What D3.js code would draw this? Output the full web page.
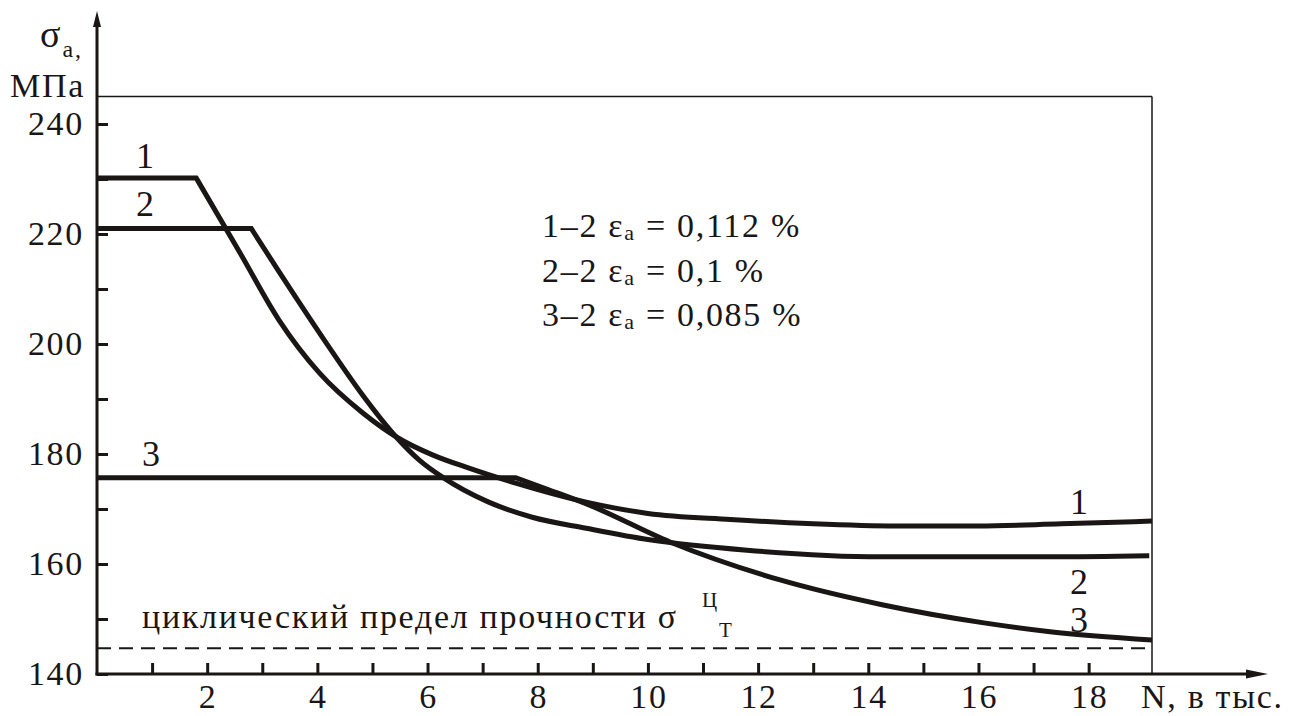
<!DOCTYPE html>
<html><head><meta charset="utf-8">
<script src="https://cdn.jsdelivr.net/npm/d3@7"></script>
<style>html,body{margin:0;padding:0;background:#fff;}svg{display:block;}</style>
</head><body>
<svg id="c" width="1304" height="716"></svg>
<script>
// ---- data ----
const xTickLabels = [2,4,6,8,10,12,14,16,18];
const xMinorTicks = [1,2,3,4,5,6,7,8,9,10,11,12,13,14,15,16,17,18];
const yTickLabels = [140,160,180,200,220,240];
const yMinorTicks = [150,170,190,210,230];
const N1 = [0, 1.8, 2.6, 3.3, 4.04, 4.82, 5.45, 6.1, 6.7, 7.6, 8.9, 10, 11.5, 13, 14.5, 16, 17.5, 19.15];
const S1 = [230.2, 230.2, 216.5, 204.4, 194.7, 187.5, 183, 179.8, 177.6, 174.7, 171.2, 169.2, 168.1, 167.3, 166.9, 166.9, 167.3, 167.8];
const N2 = [0, 2.8, 3.3, 3.6, 4.2, 4.8, 5.43, 5.85, 6.27, 7.1, 7.9, 8.88, 10.03, 11.8, 14.25, 17.3, 19.1];
const S2 = [221, 221, 213.2, 208.6, 199.6, 191, 183.1, 178.9, 175.8, 171.3, 168.5, 166.5, 164.4, 162.5, 161.3, 161.3, 161.5];
const N3 = [0, 7.6, 8.2, 8.94, 10.4, 12.4, 14.25, 16.1, 17.3, 19.15];
const S3 = [175.7, 175.7, 173.5, 170.7, 164, 157.1, 152.6, 149.3, 147.7, 146.2];
const fatigueLimit = 144.7;
const xMax = 19.15, yMin = 140, yMax = 245;
const legendLines = [["1–2 ε","a"," = 0,112 %"],["2–2 ε","a"," = 0,1 %"],["3–2 ε","a"," = 0,085 %"]];

const svg = d3.select("#c");
const x = d3.scaleLinear().domain([0, xMax]).range([97, 1152]);
const y = d3.scaleLinear().domain([yMin, yMax]).range([674, 96.5]);
const ink = "#1a1615";

function txt(px, py, size, anchor){
  return svg.append("text").attr("x",px).attr("y",py)
    .attr("style", `font-family:'Liberation Serif','Times New Roman',serif;font-size:${size}px;letter-spacing:${(size*0.05).toFixed(1)}px`)
    .attr("text-anchor",anchor||"start").attr("fill",ink);
}

// frame (thin)
svg.append("line").attr("x1",x(0)).attr("x2",x(xMax)).attr("y1",y(yMax)).attr("y2",y(yMax)).attr("stroke",ink).attr("stroke-width",1.5);
svg.append("line").attr("x1",x(xMax)).attr("x2",x(xMax)).attr("y1",y(yMax)).attr("y2",y(yMin)).attr("stroke",ink).attr("stroke-width",1.5);

// dashed fatigue line
svg.append("line").attr("x1",x(0)).attr("x2",x(xMax)).attr("y1",y(fatigueLimit)).attr("y2",y(fatigueLimit))
  .attr("stroke",ink).attr("stroke-width",2).attr("stroke-dasharray","14,8");

// axes (ticks only, drawn through d3 scales)
const yAxis = d3.axisRight(y).tickValues(yTickLabels.concat(yMinorTicks)).tickSize(11).tickFormat("");
const gy = svg.append("g").attr("transform",`translate(${x(0)},0)`).call(yAxis);
gy.select(".domain").remove();
gy.selectAll("text").remove();
gy.selectAll("line").attr("stroke",ink).attr("stroke-width",3);
const xAxis = d3.axisTop(x).tickValues(xMinorTicks).tickSize(11).tickFormat("");
const gx = svg.append("g").attr("transform",`translate(0,${y(yMin)})`).call(xAxis);
gx.select(".domain").remove();
gx.selectAll("text").remove();
gx.selectAll("line").attr("stroke",ink).attr("stroke-width",3);

svg.append("line").attr("x1",x(0)).attr("x2",x(0)).attr("y1",y(yMin)+1.5).attr("y2",22).attr("stroke",ink).attr("stroke-width",3);
svg.append("path").attr("d",`M${x(0)},11 L${x(0)-4},27 L${x(0)+4},27 Z`).attr("fill",ink);
svg.append("line").attr("x1",x(0)-1.5).attr("x2",1255).attr("y1",y(yMin)).attr("y2",y(yMin)).attr("stroke",ink).attr("stroke-width",3);
svg.append("path").attr("d",`M1268,${y(yMin)} L1246,${y(yMin)-4.5} L1246,${y(yMin)+4.5} Z`).attr("fill",ink);

// tick labels
yTickLabels.forEach(v=>{ txt(84, y(v)+11, 34, "end").text(v); });
xTickLabels.forEach(v=>{ txt(x(v)+1, 708, 34, "middle").text(v); });
txt(1141, 708, 34, "start").text("N, в тыс.");

// y axis title
const t1 = txt(40, 47, 38, "start");
t1.append("tspan").text("σ");
t1.append("tspan").attr("style","font-size:24px").attr("dy",10).text("a,");
txt(10, 97, 34, "start").text("МПа");

// curves
const lineLin = d3.line().x(d=>x(d[0])).y(d=>y(d[1]));
const lineCurve = d3.line().x(d=>x(d[0])).y(d=>y(d[1])).curve(d3.curveMonotoneX);
[[N1,S1],[N2,S2],[N3,S3]].forEach(([N,S])=>{
  const pts = N.map((n,i)=>[n,S[i]]);
  const flat = lineLin(pts.slice(0,2));
  const rest = lineCurve(pts.slice(1));
  svg.append("path").attr("d", flat + rest.replace(/^M/,"L"))
    .attr("fill","none").attr("stroke",ink).attr("stroke-width",5).attr("stroke-linejoin","miter");
});

// curve labels
txt(146, 168, 36, "middle").text("1");
txt(146, 216, 36, "middle").text("2");
txt(152, 466, 36, "middle").text("3");
txt(1080, 514, 36, "middle").text("1");
txt(1080, 594, 36, "middle").text("2");
txt(1080, 632, 36, "middle").text("3");

// legend
legendLines.forEach((l,i)=>{
  const t = txt(542, 237 + i*44.5, 34, "start");
  t.append("tspan").text(l[0]);
  t.append("tspan").attr("style","font-size:22px").attr("dy",3).text(l[1]);
  t.append("tspan").attr("dy",-3).text(l[2]);
});

// fatigue limit label
txt(142, 628, 34, "start").text("циклический предел прочности σ");
txt(702, 607, 21, "start").text("Ц");
txt(719, 637, 21, "start").text("Т");
</script>
</body></html>
